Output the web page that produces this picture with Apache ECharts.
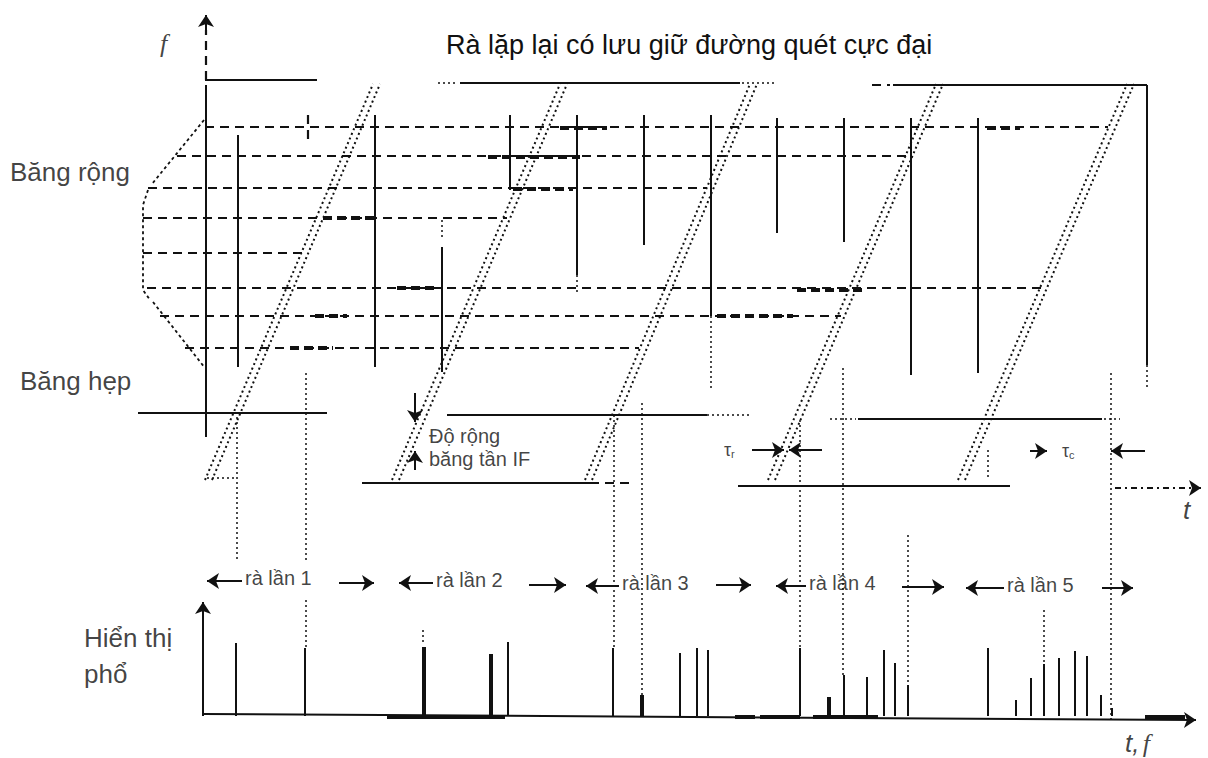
<!DOCTYPE html>
<html><head><meta charset="utf-8">
<script src="https://cdn.jsdelivr.net/npm/echarts@6.0.0/dist/echarts.min.js"></script>
<style>html,body{margin:0;padding:0;background:#fff}#c{width:1208px;height:758px}</style>
</head><body><div id="c"></div>
<script>
// ---------- DATA (diagram units: t across, f down-inverted) ----------
const titleText = 'Rà lặp lại có lưu giữ đường quét cực đại';
// five sweeps: bottom / top t-positions
const sweepBottomX = [205, 392, 585, 768, 958];
const sweepTopX    = [373, 560, 750, 936, 1127];
const sweepLowF = 480, sweepHighF = 84, sweepGap = 7;
// stored signal frequencies (dashed), start and hold end
const signalFreq   = [127, 156, 188, 218, 253, 288, 316, 348];
const signalStart  = [205, 177, 148, 143, 143, 147, 160, 185];
const signalEnd    = [1108, 910, 707, 507, 305, 1042, 841, 639];
// max-hold bold parts [f, from, to]
const holdF    = [128, 128, 157, 189, 218, 288, 290, 316, 316, 348];
const holdFrom = [560, 987, 488, 513, 323, 397, 797, 315, 717, 290];
const holdTo   = [607, 1020, 580, 573, 375, 437, 863, 347, 793, 333];
// signal events (solid verticals)
const eventT   = [238, 375, 442, 510, 577, 644, 711, 777, 844, 911, 978, 1147];
const eventTop = [135, 115, 247, 115, 115, 115, 115, 118, 118, 118, 118, 85];
const eventBot = [367, 367, 372, 190, 275, 245, 316, 233, 242, 375, 373, 365];
// wide band edges (top) and narrow/IF band edges
const wideF = [80, 83, 85], wideFrom = [205, 460, 893], wideTo = [317, 740, 1147];
const narrowF = [413, 415, 483, 419, 486], narrowFrom = [138, 447, 362, 858, 738], narrowTo = [327, 707, 590, 1102, 1010];
// alignment (dotted) lines
const alignT  = [237, 306, 306, 614, 642, 711, 800, 843, 908, 988, 1111, 1044, 423, 577, 442, 1147];
const alignF1 = [417, 373, 600, 415, 403, 316, 420, 368, 535, 450, 373, 610, 630, 275, 220, 365];
const alignF2 = [562, 563, 648, 648, 695, 388, 648, 675, 685, 480, 720, 664, 645, 295, 240, 390];
// spectrum display
const specT   = [236, 305, 424, 491, 508, 613, 642, 680, 697, 708, 800, 829, 844, 867, 884, 895, 908, 988, 1016, 1031, 1044, 1059, 1075, 1087, 1101, 1112];
const specTop = [643, 648, 647, 654, 642, 648, 695, 653, 648, 650, 648, 697, 675, 677, 650, 663, 685, 648, 700, 678, 664, 658, 651, 656, 695, 708];
const specBold = [424, 491, 642, 829];
const specBase = 716;
const sweepNames = ['rà lần 1', 'rà lần 2', 'rà lần 3', 'rà lần 4', 'rà lần 5'];

// ---------- LAYOUT (annotation placement) ----------
const L = {
  sweepLabelX: [245, 436, 622, 809, 1007], sweepLabelY: [578, 580, 583, 583, 585],
  leftTip: [207, 399, 586, 776, 966],
  rightFrom: [339, 529, 716, 902, 1102], rightTo: [374, 566, 751, 944, 1133], rightY: [583, 585, 585, 587, 588]
};
const INK = '#111111';
const FONT = '"Liberation Sans", Arial, sans-serif';

function seg(a, b, c, d) { return { coords: [[a, b], [c, d]] }; }
function lines(data, width, type, extra) {
  return Object.assign({
    type: 'lines', coordinateSystem: 'cartesian2d', polyline: false, silent: true, symbol: 'none',
    lineStyle: { color: INK, width: width, type: type, opacity: 1 }, data: data, z: 3
  }, extra || {});
}

// solid
const solid = [];
solid.push(seg(206, 85, 206, 437));
eventT.forEach((t, i) => solid.push(seg(t, eventTop[i], t, eventBot[i])));
wideF.forEach((f, i) => solid.push(seg(wideFrom[i], f, wideTo[i], f)));
narrowF.forEach((f, i) => solid.push(seg(narrowFrom[i], f, narrowTo[i], f)));
specT.forEach((t, i) => { if (specBold.indexOf(t) < 0) solid.push(seg(t, specBase, t, specTop[i])); });
solid.push(seg(203, 716, 203, 612));
// bold
const bold = [];
specT.forEach((t, i) => { if (specBold.indexOf(t) >= 0) bold.push(seg(t, specBase, t, specTop[i])); });
[[387, 505], [735, 755], [760, 800], [813, 878], [1145, 1185]].forEach(r => bold.push(seg(r[0], 717, r[1], 717)));
// dashed signals
const dashed = signalFreq.map((f, i) => seg(signalStart[i], f, signalEnd[i], f));
dashed.push(seg(308, 115, 308, 145));
dashed.push(seg(590, 483, 633, 483));
dashed.push(seg(872, 85, 890, 85));
dashed.push(seg(206, 80, 206, 30));
const holdSegs = holdF.map((f, i) => seg(holdFrom[i], f, holdTo[i], f));
// sweeps (double dotted)
const sweeps = [];
sweepBottomX.forEach((b, i) => {
  sweeps.push(seg(b, sweepLowF, sweepTopX[i], sweepHighF));
  sweeps.push(seg(b + sweepGap, sweepLowF, sweepTopX[i] + sweepGap, sweepHighF));
});
// dotted alignment
const dotted = alignT.map((t, i) => seg(t, alignF1[i], t, alignF2[i]));
dotted.push(seg(207, 478, 237, 478));
dotted.push(seg(438, 83, 458, 83), seg(742, 83, 775, 83), seg(707, 415, 752, 415));
dotted.push(seg(830, 419, 856, 419), seg(1104, 419, 1120, 419));
// bracket for wide band
const bracket = [
  { coords: [[204, 120], [152, 184]] },
  { coords: [[148, 190], [143, 205], [143, 290], [150, 300]] },
  { coords: [[153, 302], [205, 368]] }
];
// arrows
const arrows = [
  seg(206, 32, 206, 15),
  seg(203, 620, 203, 602),
  seg(203, 714, 1196, 720),
  seg(415, 393, 415, 422),
  seg(415, 470, 415, 451),
  seg(752, 450, 784, 450),
  seg(822, 450, 789, 450),
  seg(1030, 451, 1047, 451),
  seg(1145, 451, 1111, 451)
];
sweepNames.forEach((n, i) => {
  arrows.push(seg(L.sweepLabelX[i] - 3, L.sweepLabelY[i] + 3, L.leftTip[i], L.sweepLabelY[i] + 3));
  arrows.push(seg(L.rightFrom[i], L.rightY[i], L.rightTo[i], L.rightY[i]));
});
const tAxis = [seg(1115, 488, 1201, 488)];

// text annotations
function txt(x, y, s, size, extra) {
  return Object.assign({ value: [x, y], name: s, label: { fontSize: size } }, extra || {});
}
const texts = [
  txt(10, 172, 'Băng rộng', 26), txt(20, 381, 'Băng hẹp', 26),
  txt(84, 638, 'Hiển thị', 26), txt(84, 674, 'phổ', 26),
  txt(429, 436, 'Độ rộng', 20), txt(429, 459, 'băng tần IF', 20)
];
sweepNames.forEach((n, i) => texts.push(txt(L.sweepLabelX[i], L.sweepLabelY[i], n, 20)));
texts.push({ value: [160, 43], name: 'f', label: { fontSize: 26, fontStyle: 'italic', fontFamily: '"Liberation Serif", serif' } });
texts.push({ value: [1183, 510], name: 't', label: { fontSize: 26, fontStyle: 'italic' } });
texts.push({ value: [1125, 743], name: 't, f', label: { formatter: '{a|t,} {b|f}', rich: {
  a: { fontSize: 26, fontStyle: 'italic', fontFamily: FONT, color: INK },
  b: { fontSize: 26, fontStyle: 'italic', fontFamily: '"Liberation Serif", serif', color: INK } } } });
texts.push({ value: [724, 450], name: 'τr', label: { formatter: '{a|τ}{s|r}', rich: { a: { fontSize: 18, color: INK }, s: { fontSize: 11, color: INK, padding: [8, 0, 0, 0] } } } });
texts.push({ value: [1062, 451], name: 'τc', label: { formatter: '{a|τ}{s|c}', rich: { a: { fontSize: 18, color: INK }, s: { fontSize: 11, color: INK, padding: [8, 0, 0, 0] } } } });

const chart = echarts.init(document.getElementById('c'), null, { renderer: 'svg' });
chart.setOption({
  animation: false,
  backgroundColor: '#ffffff',
  title: { text: titleText, left: 441, top: 26, textStyle: { fontFamily: FONT, fontSize: 27, fontWeight: 'normal', color: INK } },
  grid: { left: 0, right: 0, top: 0, bottom: 0 },
  xAxis: { type: 'value', min: 0, max: 1208, show: false },
  yAxis: { type: 'value', min: 0, max: 758, inverse: true, show: false },
  series: [
    lines(dashed, 2.2, [9, 6]),
    lines(holdSegs, 4, [9, 5]),
    lines(sweeps, 2, [2, 3]),
    lines(dotted, 1.5, [2, 3]),
    lines(bracket, 1.8, [3, 3], { polyline: true }),
    lines(solid, 2, 'solid'),
    lines(bold, 4, 'solid'),
    lines(tAxis, 2, [6, 4, 2, 4], { symbol: ['none', 'arrow'], symbolSize: 12 }),
    lines(arrows, 2, 'solid', { symbol: ['none', 'arrow'], symbolSize: 12 }),
    {
      type: 'scatter', silent: true, symbolSize: 1, itemStyle: { color: 'rgba(0,0,0,0)' }, z: 5,
      label: { show: true, position: 'inside', align: 'left', verticalAlign: 'middle', color: INK, fontFamily: FONT, formatter: '{b}' },
      data: texts
    }
  ]
});
</script></body></html>
